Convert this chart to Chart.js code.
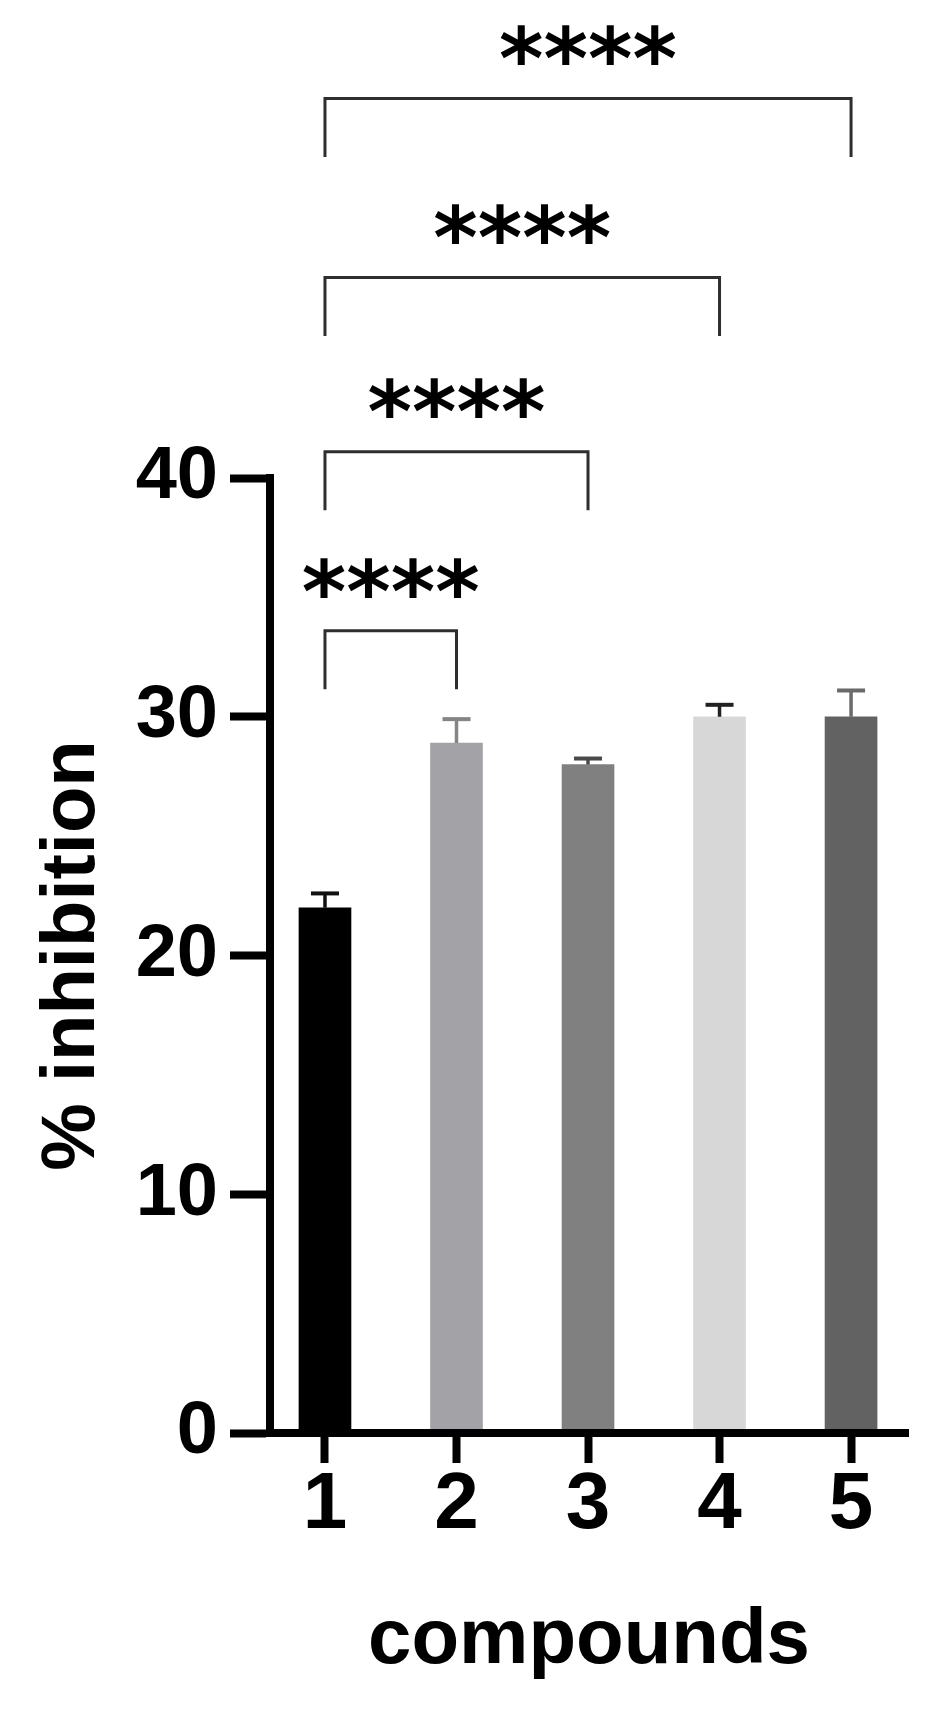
<!DOCTYPE html>
<html><head><meta charset="utf-8">
<script src="https://cdn.jsdelivr.net/npm/chart.js@4.4.1/dist/chart.umd.min.js"></script>
<style>html,body{margin:0;padding:0;background:#fff;} #wrap{width:940px;height:1716px;position:relative;}</style>
</head><body><div id="wrap"><canvas id="c"></canvas></div>
<script>
const categories = [1, 2, 3, 4, 5];
const tickLabels = ['1', '2', '3', '4', '5'];
const inhibition = [22.0, 28.9, 28.0, 30.0, 30.0];
const errorUp = [0.6, 1.0, 0.25, 0.5, 1.1];
const barColors = ['#000000', '#a3a2a7', '#808080', '#d7d7d7', '#626262'];
const errColors = ['#111111', '#858589', '#4a4a4a', '#222222', '#6a6a6a'];
const yTicks = [0, 10, 20, 30, 40];
const bracketFrom = [1, 1, 1, 1];
const bracketTo = [2, 3, 4, 5];
const bracketLevel = [33.6, 41.1, 48.4, 55.9];
const bracketLabels = ['****', '****', '****', '****'];
const BRACKET_LEG = 2.45;
const LABEL_GAP = 2.23;

const FAMILY = "'Liberation Sans', Arial, sans-serif";

const annot = {
  id: 'annot',
  afterDatasetsDraw(chart) {
    const ctx = chart.ctx, xs = chart.scales.x, ys = chart.scales.y;
    ctx.save();
    categories.forEach((c, i) => {
      const x = xs.getPixelForValue(c);
      const yb = ys.getPixelForValue(inhibition[i]);
      const yt = ys.getPixelForValue(inhibition[i] + errorUp[i]);
      ctx.strokeStyle = errColors[i];
      ctx.fillStyle = errColors[i];
      ctx.lineWidth = 3.5;
      ctx.beginPath();
      ctx.moveTo(x, yb);
      ctx.lineTo(x, yt);
      ctx.stroke();
      ctx.fillRect(x - 14, yt - 2, 28, 4);
    });
    ctx.restore();
  },
  afterDraw(chart) {
    const ctx = chart.ctx, xs = chart.scales.x, ys = chart.scales.y;
    ctx.save();
    bracketFrom.forEach((f, i) => {
      const x1 = xs.getPixelForValue(f);
      const x2 = xs.getPixelForValue(bracketTo[i]);
      const yl = ys.getPixelForValue(bracketLevel[i]);
      const yg = ys.getPixelForValue(bracketLevel[i] - BRACKET_LEG);
      ctx.strokeStyle = '#2e2e2e';
      ctx.lineWidth = 3;
      ctx.lineJoin = 'miter';
      ctx.beginPath();
      ctx.moveTo(x1, yg);
      ctx.lineTo(x1, yl);
      ctx.lineTo(x2, yl);
      ctx.lineTo(x2, yg);
      ctx.stroke();
      const yc = ys.getPixelForValue(bracketLevel[i] + LABEL_GAP);
      ctx.font = "bold 85px 'DejaVu Sans', sans-serif";
      ctx.fillStyle = '#000';
      ctx.textAlign = 'center';
      ctx.textBaseline = 'alphabetic';
      const m = ctx.measureText(bracketLabels[i]);
      const base = yc + (m.actualBoundingBoxAscent - m.actualBoundingBoxDescent) / 2;
      ctx.fillText(bracketLabels[i], (x1 + x2) / 2, base);
    });
    ctx.restore();
  }
};

new Chart(document.getElementById('c'), {
  type: 'bar',
  data: {
    datasets: [{
      data: categories.map((c, i) => ({ x: c, y: inhibition[i] })),
      backgroundColor: barColors,
      borderWidth: 0,
      barThickness: 52
    }]
  },
  options: {
    responsive: true,
    maintainAspectRatio: false,
    animation: false,
    events: [],
    layout: { padding: { top: 478, left: 27, right: 32, bottom: 28 } },
    plugins: { legend: { display: false }, tooltip: { enabled: false } },
    scales: {
      x: {
        type: 'linear',
        min: 0.582,
        max: 5.433,
        offset: false,
        afterBuildTicks: s => { s.ticks = categories.map(v => ({ value: v })); },
        afterFit: s => { s.height = 255; },
        grid: { display: true, offset: false, drawOnChartArea: false, drawTicks: true, tickLength: 30, tickWidth: 8, tickColor: '#000', z: 1 },
        border: { display: true, width: 8, color: '#000', z: 1 },
        ticks: {
          color: '#000', padding: -5, maxRotation: 0, autoSkip: false,
          font: { family: FAMILY, size: 80, weight: 'bold' },
          callback: v => { const k = categories.indexOf(v); return k >= 0 ? tickLabels[k] : ''; }
        },
        title: { display: true, text: 'compounds', color: '#000', padding: 0, font: { family: FAMILY, size: 78, weight: 'bold' } }
      },
      y: {
        min: 0,
        max: 40,
        afterBuildTicks: s => { s.ticks = yTicks.map(v => ({ value: v })); },
        afterFit: s => { s.width = 243; },
        grid: { display: true, drawOnChartArea: false, drawTicks: true, tickLength: 40, tickWidth: 8, tickColor: '#000', z: 1 },
        border: { display: true, width: 8, color: '#000', z: 1 },
        ticks: { color: '#000', padding: 12, font: { family: FAMILY, size: 74, weight: 'bold' } },
        title: { display: true, text: '% inhibition', color: '#000', padding: 0, font: { family: FAMILY, size: 76, weight: 'bold' } }
      }
    }
  },
  plugins: [annot]
});
</script>
</body></html>
